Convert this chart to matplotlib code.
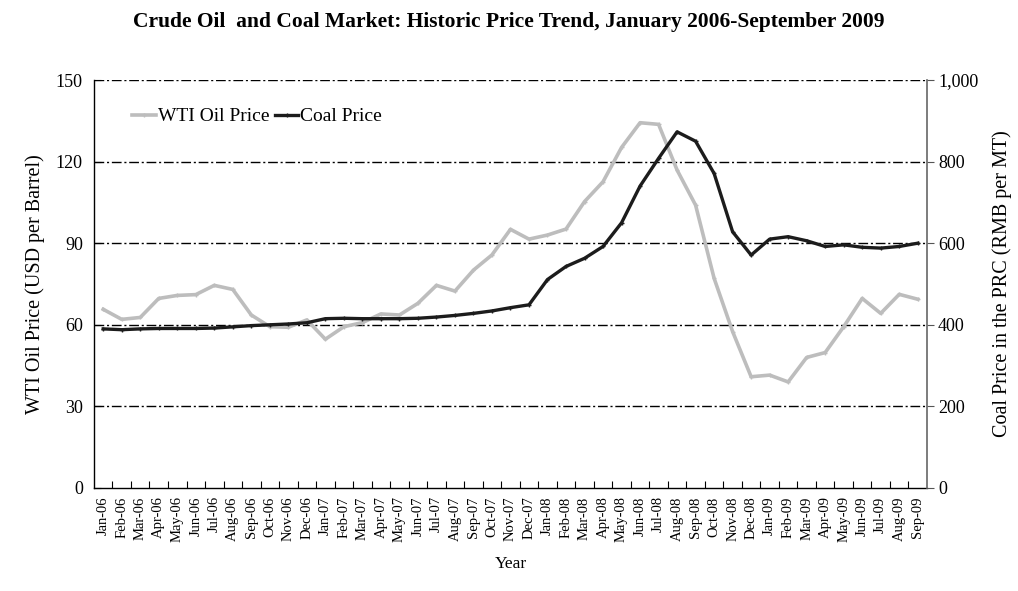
import matplotlib
matplotlib.use("Agg")
import matplotlib.pyplot as plt
from matplotlib.ticker import FuncFormatter

# Month labels, Jan-06 through Sep-09
months = ["Jan", "Feb", "Mar", "Apr", "May", "Jun",
          "Jul", "Aug", "Sep", "Oct", "Nov", "Dec"]
labels = []
for yr in ["06", "07", "08", "09"]:
    for m in months:
        labels.append(f"{m}-{yr}")
labels = labels[:45]

# WTI oil price, USD per barrel
wti_price = [65.7, 62.0, 62.7, 69.7, 70.8, 71.1, 74.5, 73.0, 63.6, 59.3, 59.1, 61.8,
             54.7, 59.3, 60.8, 64.0, 63.6, 67.9, 74.5, 72.4, 80.1, 85.7, 95.1, 91.5,
             93.0, 95.2, 105.3, 112.6, 125.2, 134.3, 133.7, 116.9, 104.0, 77.1, 57.5, 40.9,
             41.5, 39.0, 48.0, 49.8, 59.3, 69.7, 64.2, 71.2, 69.4]

# Coal price in the PRC, RMB per MT
coal_price = [390, 388, 390, 391, 391, 391, 392, 395, 398, 400, 402, 405,
              415, 416, 415, 415, 415, 416, 419, 423, 428, 434, 442, 449,
              511, 543, 563, 592, 650, 740, 808, 873, 850, 771, 628, 571,
              610, 616, 606, 592, 596, 590, 588, 592, 600]

plt.rcParams["font.family"] = ["Liberation Serif", "DejaVu Serif"]

fig = plt.figure(figsize=(10.18, 5.91), dpi=100)
ax = fig.add_axes([0.0923, 0.1743, 0.8183, 0.6903])
ax2 = ax.twinx()

x = list(range(len(labels)))

# grid lines (dash-dot, black)
for v in [30, 60, 90, 120, 150]:
    ax.axhline(v, color="black", linewidth=1.0, linestyle=(0, (7, 2, 1.5, 2)), zorder=1)

line_wti, = ax.plot(x, wti_price, color="#bdbdbd", linewidth=2.6,
                    marker="+", markersize=3, zorder=3, label="WTI Oil Price")
line_coal, = ax2.plot(x, coal_price, color="#1c1c1c", linewidth=2.4,
                      marker="+", markersize=3, zorder=4, label="Coal Price")

ax.set_xlim(-0.5, len(labels) - 0.5)
ax.set_ylim(0, 150)
ax2.set_ylim(0, 1000)

ax.set_yticks([0, 30, 60, 90, 120, 150])
ax2.set_yticks([0, 200, 400, 600, 800, 1000])
ax2.yaxis.set_major_formatter(FuncFormatter(lambda v, p: f"{int(v):,}"))

ax.set_xticks(x)
ax.set_xticklabels(labels, rotation=90, fontsize=10.5)
ax.set_xticks([i + 0.5 for i in x[:-1]], minor=True)
ax.tick_params(axis="x", which="major", length=0, pad=6)
ax.tick_params(axis="x", which="minor", direction="in", length=5, width=0.8)
ax.tick_params(axis="y", direction="in", length=5, labelsize=13, pad=8)
ax2.tick_params(axis="y", direction="out", length=5, labelsize=13, color="#555555", pad=3)

for s in ["top"]:
    ax.spines[s].set_visible(False)
    ax2.spines[s].set_visible(False)
ax2.spines["left"].set_visible(False)
ax2.spines["bottom"].set_visible(False)
ax2.spines["right"].set_color("#666666")
ax2.spines["right"].set_linewidth(1.2)
ax.spines["right"].set_visible(False)
ax.spines["left"].set_linewidth(1.0)
ax.spines["bottom"].set_linewidth(1.0)

ax.set_ylabel("WTI Oil Price (USD per Barrel)", fontsize=14.5, labelpad=8)
ax2.set_ylabel("Coal Price in the PRC (RMB per MT)", fontsize=14.5, labelpad=10)
ax.set_xlabel("Year", fontsize=12.5, labelpad=10)

ax.legend(handles=[line_wti, line_coal], loc="upper left", ncol=2, frameon=False,
          fontsize=14, handlelength=1.2, handletextpad=0.1, columnspacing=0.3,
          bbox_to_anchor=(0.025, 0.975))

fig.text(0.5, 0.962, "Crude Oil  and Coal Market: Historic Price Trend, January 2006-September 2009",
         ha="center", va="center", fontsize=15.5, fontweight="bold")

fig.savefig("out.png", dpi=100)
